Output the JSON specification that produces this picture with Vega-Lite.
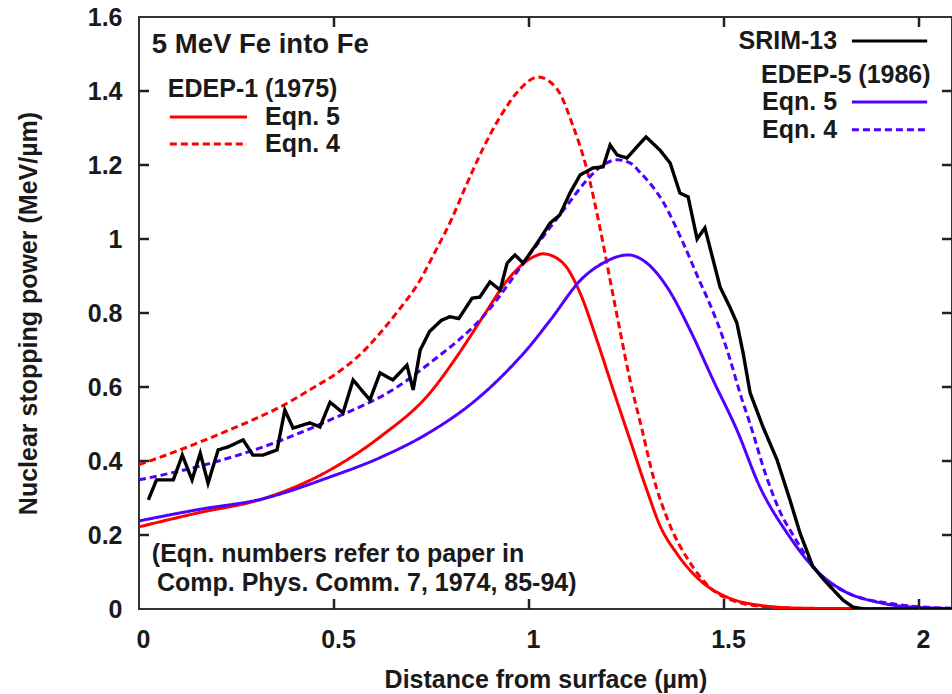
{
  "$schema": "https://vega.github.io/schema/vega-lite/v6.json",
  "width": 813,
  "height": 592,
  "autosize": {"type": "none"},
  "padding": {"left": 139, "top": 17, "right": 0, "bottom": 85},
  "background": "white",
  "config": {
    "view": {"stroke": "#333333", "strokeWidth": 2},
    "font": "Liberation Sans",
    "axis": {
      "grid": false,
      "domain": false,
      "ticks": false,
      "labelFont": "Liberation Sans",
      "labelFontWeight": "bold",
      "labelFontSize": 25,
      "labelColor": "#1a1a1a",
      "titleFont": "Liberation Sans",
      "titleFontWeight": "bold",
      "titleFontSize": 25,
      "titleColor": "#1a1a1a",
      "labelFlush": false,
      "labelOverlap": false
    },
    "text": {"font": "Liberation Sans", "fontWeight": "bold", "fontSize": 25, "color": "#1a1a1a", "baseline": "middle"}
  },
  "datasets": {
    "curves": [
      {"series": "EDEP-1 Eqn. 4", "x": 0, "y": 0.39},
      {"series": "EDEP-1 Eqn. 4", "x": 0.105, "y": 0.43},
      {"series": "EDEP-1 Eqn. 4", "x": 0.2, "y": 0.47},
      {"series": "EDEP-1 Eqn. 4", "x": 0.3, "y": 0.515},
      {"series": "EDEP-1 Eqn. 4", "x": 0.362, "y": 0.546},
      {"series": "EDEP-1 Eqn. 4", "x": 0.45, "y": 0.6},
      {"series": "EDEP-1 Eqn. 4", "x": 0.5, "y": 0.632},
      {"series": "EDEP-1 Eqn. 4", "x": 0.574, "y": 0.695},
      {"series": "EDEP-1 Eqn. 4", "x": 0.62, "y": 0.748},
      {"series": "EDEP-1 Eqn. 4", "x": 0.669, "y": 0.812},
      {"series": "EDEP-1 Eqn. 4", "x": 0.72, "y": 0.887},
      {"series": "EDEP-1 Eqn. 4", "x": 0.754, "y": 0.955},
      {"series": "EDEP-1 Eqn. 4", "x": 0.8, "y": 1.05},
      {"series": "EDEP-1 Eqn. 4", "x": 0.841, "y": 1.15},
      {"series": "EDEP-1 Eqn. 4", "x": 0.88, "y": 1.24},
      {"series": "EDEP-1 Eqn. 4", "x": 0.926, "y": 1.33},
      {"series": "EDEP-1 Eqn. 4", "x": 0.977, "y": 1.405},
      {"series": "EDEP-1 Eqn. 4", "x": 1.023, "y": 1.438},
      {"series": "EDEP-1 Eqn. 4", "x": 1.072, "y": 1.405},
      {"series": "EDEP-1 Eqn. 4", "x": 1.113, "y": 1.305},
      {"series": "EDEP-1 Eqn. 4", "x": 1.149, "y": 1.186},
      {"series": "EDEP-1 Eqn. 4", "x": 1.182, "y": 1.03},
      {"series": "EDEP-1 Eqn. 4", "x": 1.208, "y": 0.889},
      {"series": "EDEP-1 Eqn. 4", "x": 1.233, "y": 0.754},
      {"series": "EDEP-1 Eqn. 4", "x": 1.259, "y": 0.619},
      {"series": "EDEP-1 Eqn. 4", "x": 1.29, "y": 0.484},
      {"series": "EDEP-1 Eqn. 4", "x": 1.318, "y": 0.36},
      {"series": "EDEP-1 Eqn. 4", "x": 1.362, "y": 0.225},
      {"series": "EDEP-1 Eqn. 4", "x": 1.41, "y": 0.13},
      {"series": "EDEP-1 Eqn. 4", "x": 1.462, "y": 0.06},
      {"series": "EDEP-1 Eqn. 4", "x": 1.53, "y": 0.02},
      {"series": "EDEP-1 Eqn. 4", "x": 1.61, "y": 0.006},
      {"series": "EDEP-1 Eqn. 4", "x": 1.75, "y": 0.001},
      {"series": "EDEP-1 Eqn. 4", "x": 2.09, "y": 0},
      {"series": "EDEP-1 Eqn. 5", "x": 0, "y": 0.222},
      {"series": "EDEP-1 Eqn. 5", "x": 0.148, "y": 0.259},
      {"series": "EDEP-1 Eqn. 5", "x": 0.318, "y": 0.298},
      {"series": "EDEP-1 Eqn. 5", "x": 0.49, "y": 0.376},
      {"series": "EDEP-1 Eqn. 5", "x": 0.618, "y": 0.465},
      {"series": "EDEP-1 Eqn. 5", "x": 0.746, "y": 0.584},
      {"series": "EDEP-1 Eqn. 5", "x": 0.82, "y": 0.69},
      {"series": "EDEP-1 Eqn. 5", "x": 0.882, "y": 0.79},
      {"series": "EDEP-1 Eqn. 5", "x": 0.951, "y": 0.897},
      {"series": "EDEP-1 Eqn. 5", "x": 1.01, "y": 0.951},
      {"series": "EDEP-1 Eqn. 5", "x": 1.036, "y": 0.96},
      {"series": "EDEP-1 Eqn. 5", "x": 1.087, "y": 0.935},
      {"series": "EDEP-1 Eqn. 5", "x": 1.131, "y": 0.854},
      {"series": "EDEP-1 Eqn. 5", "x": 1.174, "y": 0.727},
      {"series": "EDEP-1 Eqn. 5", "x": 1.216, "y": 0.592},
      {"series": "EDEP-1 Eqn. 5", "x": 1.259, "y": 0.457},
      {"series": "EDEP-1 Eqn. 5", "x": 1.302, "y": 0.322},
      {"series": "EDEP-1 Eqn. 5", "x": 1.336, "y": 0.225},
      {"series": "EDEP-1 Eqn. 5", "x": 1.379, "y": 0.15},
      {"series": "EDEP-1 Eqn. 5", "x": 1.438, "y": 0.078},
      {"series": "EDEP-1 Eqn. 5", "x": 1.508, "y": 0.032},
      {"series": "EDEP-1 Eqn. 5", "x": 1.592, "y": 0.01},
      {"series": "EDEP-1 Eqn. 5", "x": 1.7, "y": 0.002},
      {"series": "EDEP-1 Eqn. 5", "x": 2.09, "y": 0},
      {"series": "EDEP-5 Eqn. 5", "x": 0, "y": 0.238},
      {"series": "EDEP-5 Eqn. 5", "x": 0.148, "y": 0.268},
      {"series": "EDEP-5 Eqn. 5", "x": 0.318, "y": 0.298},
      {"series": "EDEP-5 Eqn. 5", "x": 0.49, "y": 0.357},
      {"series": "EDEP-5 Eqn. 5", "x": 0.62, "y": 0.41},
      {"series": "EDEP-5 Eqn. 5", "x": 0.746, "y": 0.478},
      {"series": "EDEP-5 Eqn. 5", "x": 0.864, "y": 0.565},
      {"series": "EDEP-5 Eqn. 5", "x": 0.95, "y": 0.65},
      {"series": "EDEP-5 Eqn. 5", "x": 1.0, "y": 0.708},
      {"series": "EDEP-5 Eqn. 5", "x": 1.054, "y": 0.78},
      {"series": "EDEP-5 Eqn. 5", "x": 1.138, "y": 0.895},
      {"series": "EDEP-5 Eqn. 5", "x": 1.19, "y": 0.935},
      {"series": "EDEP-5 Eqn. 5", "x": 1.254, "y": 0.957},
      {"series": "EDEP-5 Eqn. 5", "x": 1.302, "y": 0.935},
      {"series": "EDEP-5 Eqn. 5", "x": 1.354, "y": 0.87},
      {"series": "EDEP-5 Eqn. 5", "x": 1.413, "y": 0.754},
      {"series": "EDEP-5 Eqn. 5", "x": 1.472, "y": 0.619},
      {"series": "EDEP-5 Eqn. 5", "x": 1.533, "y": 0.484},
      {"series": "EDEP-5 Eqn. 5", "x": 1.592, "y": 0.33},
      {"series": "EDEP-5 Eqn. 5", "x": 1.662, "y": 0.205},
      {"series": "EDEP-5 Eqn. 5", "x": 1.728, "y": 0.114},
      {"series": "EDEP-5 Eqn. 5", "x": 1.805, "y": 0.05},
      {"series": "EDEP-5 Eqn. 5", "x": 1.892, "y": 0.019},
      {"series": "EDEP-5 Eqn. 5", "x": 1.96, "y": 0.007},
      {"series": "EDEP-5 Eqn. 5", "x": 2.09, "y": 0.001},
      {"series": "EDEP-5 Eqn. 4", "x": 0, "y": 0.349},
      {"series": "EDEP-5 Eqn. 4", "x": 0.148, "y": 0.384},
      {"series": "EDEP-5 Eqn. 4", "x": 0.318, "y": 0.438},
      {"series": "EDEP-5 Eqn. 4", "x": 0.49, "y": 0.511},
      {"series": "EDEP-5 Eqn. 4", "x": 0.662, "y": 0.6},
      {"series": "EDEP-5 Eqn. 4", "x": 0.746, "y": 0.665},
      {"series": "EDEP-5 Eqn. 4", "x": 0.882, "y": 0.79},
      {"series": "EDEP-5 Eqn. 4", "x": 1.01, "y": 0.97},
      {"series": "EDEP-5 Eqn. 4", "x": 1.097, "y": 1.09},
      {"series": "EDEP-5 Eqn. 4", "x": 1.149, "y": 1.16},
      {"series": "EDEP-5 Eqn. 4", "x": 1.19, "y": 1.2},
      {"series": "EDEP-5 Eqn. 4", "x": 1.226, "y": 1.214},
      {"series": "EDEP-5 Eqn. 4", "x": 1.26, "y": 1.205},
      {"series": "EDEP-5 Eqn. 4", "x": 1.285, "y": 1.18},
      {"series": "EDEP-5 Eqn. 4", "x": 1.344, "y": 1.1},
      {"series": "EDEP-5 Eqn. 4", "x": 1.395, "y": 0.99},
      {"series": "EDEP-5 Eqn. 4", "x": 1.438, "y": 0.885},
      {"series": "EDEP-5 Eqn. 4", "x": 1.456, "y": 0.843},
      {"series": "EDEP-5 Eqn. 4", "x": 1.508, "y": 0.7},
      {"series": "EDEP-5 Eqn. 4", "x": 1.545, "y": 0.57},
      {"series": "EDEP-5 Eqn. 4", "x": 1.567, "y": 0.5},
      {"series": "EDEP-5 Eqn. 4", "x": 1.608, "y": 0.36},
      {"series": "EDEP-5 Eqn. 4", "x": 1.645, "y": 0.26},
      {"series": "EDEP-5 Eqn. 4", "x": 1.677, "y": 0.2},
      {"series": "EDEP-5 Eqn. 4", "x": 1.737, "y": 0.105},
      {"series": "EDEP-5 Eqn. 4", "x": 1.82, "y": 0.042},
      {"series": "EDEP-5 Eqn. 4", "x": 1.933, "y": 0.014},
      {"series": "EDEP-5 Eqn. 4", "x": 2.0, "y": 0.006},
      {"series": "EDEP-5 Eqn. 4", "x": 2.09, "y": 0.002}
    ],
    "srim": [
      {"series": "SRIM-13", "x": 0.024, "y": 0.295},
      {"series": "SRIM-13", "x": 0.045, "y": 0.349},
      {"series": "SRIM-13", "x": 0.088, "y": 0.349},
      {"series": "SRIM-13", "x": 0.111, "y": 0.416},
      {"series": "SRIM-13", "x": 0.136, "y": 0.349},
      {"series": "SRIM-13", "x": 0.157, "y": 0.421},
      {"series": "SRIM-13", "x": 0.177, "y": 0.34},
      {"series": "SRIM-13", "x": 0.203, "y": 0.43},
      {"series": "SRIM-13", "x": 0.228, "y": 0.438},
      {"series": "SRIM-13", "x": 0.267, "y": 0.457},
      {"series": "SRIM-13", "x": 0.292, "y": 0.416},
      {"series": "SRIM-13", "x": 0.318, "y": 0.416},
      {"series": "SRIM-13", "x": 0.354, "y": 0.43},
      {"series": "SRIM-13", "x": 0.374, "y": 0.538},
      {"series": "SRIM-13", "x": 0.395, "y": 0.489},
      {"series": "SRIM-13", "x": 0.438, "y": 0.503},
      {"series": "SRIM-13", "x": 0.464, "y": 0.492},
      {"series": "SRIM-13", "x": 0.49, "y": 0.559},
      {"series": "SRIM-13", "x": 0.523, "y": 0.53},
      {"series": "SRIM-13", "x": 0.549, "y": 0.619},
      {"series": "SRIM-13", "x": 0.592, "y": 0.565},
      {"series": "SRIM-13", "x": 0.618, "y": 0.638},
      {"series": "SRIM-13", "x": 0.651, "y": 0.619},
      {"series": "SRIM-13", "x": 0.687, "y": 0.659},
      {"series": "SRIM-13", "x": 0.703, "y": 0.592},
      {"series": "SRIM-13", "x": 0.721, "y": 0.7},
      {"series": "SRIM-13", "x": 0.745, "y": 0.75},
      {"series": "SRIM-13", "x": 0.775, "y": 0.78},
      {"series": "SRIM-13", "x": 0.797, "y": 0.79},
      {"series": "SRIM-13", "x": 0.82, "y": 0.785},
      {"series": "SRIM-13", "x": 0.854, "y": 0.84},
      {"series": "SRIM-13", "x": 0.874, "y": 0.843},
      {"series": "SRIM-13", "x": 0.9, "y": 0.884},
      {"series": "SRIM-13", "x": 0.926, "y": 0.862},
      {"series": "SRIM-13", "x": 0.944, "y": 0.935},
      {"series": "SRIM-13", "x": 0.964, "y": 0.957},
      {"series": "SRIM-13", "x": 0.985, "y": 0.935},
      {"series": "SRIM-13", "x": 1.021, "y": 0.989},
      {"series": "SRIM-13", "x": 1.054, "y": 1.043},
      {"series": "SRIM-13", "x": 1.079, "y": 1.065},
      {"series": "SRIM-13", "x": 1.105, "y": 1.124},
      {"series": "SRIM-13", "x": 1.131, "y": 1.173},
      {"series": "SRIM-13", "x": 1.164, "y": 1.192},
      {"series": "SRIM-13", "x": 1.19, "y": 1.195},
      {"series": "SRIM-13", "x": 1.208, "y": 1.254},
      {"series": "SRIM-13", "x": 1.226, "y": 1.227},
      {"series": "SRIM-13", "x": 1.251, "y": 1.219},
      {"series": "SRIM-13", "x": 1.3, "y": 1.276},
      {"series": "SRIM-13", "x": 1.336, "y": 1.24},
      {"series": "SRIM-13", "x": 1.362, "y": 1.205},
      {"series": "SRIM-13", "x": 1.387, "y": 1.124},
      {"series": "SRIM-13", "x": 1.408, "y": 1.114},
      {"series": "SRIM-13", "x": 1.431, "y": 1.0},
      {"series": "SRIM-13", "x": 1.451, "y": 1.03},
      {"series": "SRIM-13", "x": 1.49, "y": 0.87},
      {"series": "SRIM-13", "x": 1.515, "y": 0.816},
      {"series": "SRIM-13", "x": 1.533, "y": 0.773},
      {"series": "SRIM-13", "x": 1.549, "y": 0.692},
      {"series": "SRIM-13", "x": 1.567, "y": 0.584},
      {"series": "SRIM-13", "x": 1.6, "y": 0.492},
      {"series": "SRIM-13", "x": 1.636, "y": 0.403},
      {"series": "SRIM-13", "x": 1.669, "y": 0.295},
      {"series": "SRIM-13", "x": 1.695, "y": 0.205},
      {"series": "SRIM-13", "x": 1.728, "y": 0.114},
      {"series": "SRIM-13", "x": 1.764, "y": 0.07},
      {"series": "SRIM-13", "x": 1.805, "y": 0.024},
      {"series": "SRIM-13", "x": 1.831, "y": 0.005},
      {"series": "SRIM-13", "x": 1.86, "y": 0},
      {"series": "SRIM-13", "x": 2.09, "y": 0}
    ],
    "keys": [
      {"series": "EDEP-1 Eqn. 5", "x": 0.079, "x2": 0.277, "y": 1.33},
      {"series": "EDEP-1 Eqn. 4", "x": 0.079, "x2": 0.277, "y": 1.257},
      {"series": "SRIM-13", "x": 1.828, "x2": 2.021, "y": 1.535},
      {"series": "EDEP-5 Eqn. 5", "x": 1.828, "x2": 2.021, "y": 1.37},
      {"series": "EDEP-5 Eqn. 4", "x": 1.828, "x2": 2.021, "y": 1.295}
    ],
    "ticksBottom": [{"x": 0.5, "y": 0}, {"x": 1, "y": 0}, {"x": 1.5, "y": 0}, {"x": 2, "y": 0}],
    "ticksTop": [{"x": 0.5, "y": 1.6}, {"x": 1, "y": 1.6}, {"x": 1.5, "y": 1.6}, {"x": 2, "y": 1.6}],
    "ticksLeft": [
      {"x": 0, "y": 0.2}, {"x": 0, "y": 0.4}, {"x": 0, "y": 0.6}, {"x": 0, "y": 0.8},
      {"x": 0, "y": 1.0}, {"x": 0, "y": 1.2}, {"x": 0, "y": 1.4}
    ],
    "ticksRight": [
      {"x": 2.0846, "y": 0.2}, {"x": 2.0846, "y": 0.4}, {"x": 2.0846, "y": 0.6}, {"x": 2.0846, "y": 0.8},
      {"x": 2.0846, "y": 1.0}, {"x": 2.0846, "y": 1.2}, {"x": 2.0846, "y": 1.4}
    ],
    "titleText": [
      {"label": "5 MeV Fe into Fe", "x": 0.033, "y": 1.524}
    ],
    "leftText": [
      {"label": "EDEP-1 (1975)", "x": 0.074, "y": 1.405},
      {"label": "Eqn. 5", "x": 0.323, "y": 1.33},
      {"label": "Eqn. 4", "x": 0.323, "y": 1.257},
      {"label": "EDEP-5 (1986)", "x": 1.595, "y": 1.443},
      {"label": "(Eqn. numbers refer to paper in", "x": 0.033, "y": 0.149},
      {"label": "Comp. Phys. Comm. 7, 1974, 85-94)", "x": 0.046, "y": 0.07}
    ],
    "rightText": [
      {"label": "SRIM-13", "x": 1.79, "y": 1.535},
      {"label": "Eqn. 5", "x": 1.79, "y": 1.37},
      {"label": "Eqn. 4", "x": 1.79, "y": 1.295}
    ]
  },
  "layer": [
    {
      "data": {"name": "curves"},
      "mark": {"type": "line", "interpolate": "monotone", "strokeWidth": 3, "clip": true},
      "encoding": {
        "x": {"field": "x", "type": "quantitative",
          "scale": {"domain": [0, 2.0846], "nice": false, "zero": false},
          "axis": {"orient": "bottom", "values": [0, 0.5, 1, 1.5, 2], "format": "~g", "labelPadding": 18, "labelOffset": 4, "title": "Distance from surface (µm)", "titlePadding": 15}},
        "y": {"field": "y", "type": "quantitative",
          "scale": {"domain": [0, 1.6], "nice": false},
          "axis": {"orient": "left", "values": [0, 0.2, 0.4, 0.6, 0.8, 1, 1.2, 1.4, 1.6], "format": "~g", "labelPadding": 17, "title": "Nuclear stopping power (MeV/µm)", "titlePadding": 46}},
        "color": {"field": "series", "type": "nominal",
          "scale": {"domain": ["SRIM-13", "EDEP-1 Eqn. 5", "EDEP-1 Eqn. 4", "EDEP-5 Eqn. 5", "EDEP-5 Eqn. 4"], "range": ["#000000", "#ff0000", "#ff0000", "#5000ff", "#5000ff"]},
          "legend": null},
        "strokeDash": {"field": "series", "type": "nominal",
          "scale": {"domain": ["SRIM-13", "EDEP-1 Eqn. 5", "EDEP-1 Eqn. 4", "EDEP-5 Eqn. 5", "EDEP-5 Eqn. 4"], "range": [[1, 0], [1, 0], [7, 4], [1, 0], [7, 4]]},
          "legend": null}
      }
    },
    {
      "data": {"name": "srim"},
      "mark": {"type": "line", "strokeWidth": 3.4, "clip": true},
      "encoding": {
        "x": {"field": "x", "type": "quantitative"},
        "y": {"field": "y", "type": "quantitative"},
        "color": {"field": "series", "type": "nominal", "legend": null},
        "strokeDash": {"field": "series", "type": "nominal", "legend": null}
      }
    },
    {
      "data": {"name": "keys"},
      "mark": {"type": "rule", "strokeWidth": 3},
      "encoding": {
        "x": {"field": "x", "type": "quantitative"},
        "x2": {"field": "x2"},
        "y": {"field": "y", "type": "quantitative"},
        "color": {"field": "series", "type": "nominal", "legend": null},
        "strokeDash": {"field": "series", "type": "nominal", "legend": null}
      }
    },
    {
      "data": {"name": "ticksBottom"},
      "mark": {"type": "tick", "orient": "vertical", "size": 10, "thickness": 2.5, "color": "#222222", "opacity": 1, "yOffset": -5},
      "encoding": {
        "x": {"field": "x", "type": "quantitative"},
        "y": {"field": "y", "type": "quantitative"}
      }
    },
    {
      "data": {"name": "ticksTop"},
      "mark": {"type": "tick", "orient": "vertical", "size": 10, "thickness": 2.5, "color": "#222222", "opacity": 1, "yOffset": 5},
      "encoding": {
        "x": {"field": "x", "type": "quantitative"},
        "y": {"field": "y", "type": "quantitative"}
      }
    },
    {
      "data": {"name": "ticksLeft"},
      "mark": {"type": "tick", "orient": "horizontal", "size": 10, "thickness": 2.5, "color": "#222222", "opacity": 1, "xOffset": 5},
      "encoding": {
        "x": {"field": "x", "type": "quantitative"},
        "y": {"field": "y", "type": "quantitative"}
      }
    },
    {
      "data": {"name": "ticksRight"},
      "mark": {"type": "tick", "orient": "horizontal", "size": 10, "thickness": 2.5, "color": "#222222", "opacity": 1, "xOffset": -5},
      "encoding": {
        "x": {"field": "x", "type": "quantitative"},
        "y": {"field": "y", "type": "quantitative"}
      }
    },
    {
      "data": {"name": "titleText"},
      "mark": {"type": "text", "align": "left", "fontSize": 27.5},
      "encoding": {
        "x": {"field": "x", "type": "quantitative"},
        "y": {"field": "y", "type": "quantitative"},
        "text": {"field": "label"}
      }
    },
    {
      "data": {"name": "leftText"},
      "mark": {"type": "text", "align": "left"},
      "encoding": {
        "x": {"field": "x", "type": "quantitative"},
        "y": {"field": "y", "type": "quantitative"},
        "text": {"field": "label"}
      }
    },
    {
      "data": {"name": "rightText"},
      "mark": {"type": "text", "align": "right"},
      "encoding": {
        "x": {"field": "x", "type": "quantitative"},
        "y": {"field": "y", "type": "quantitative"},
        "text": {"field": "label"}
      }
    }
  ]
}
